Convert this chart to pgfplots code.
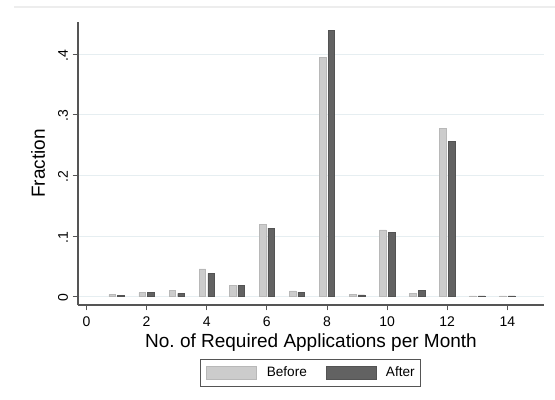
\documentclass[border=0pt]{standalone}
\usepackage{fontspec}
\setmainfont{Liberation Sans}
\usepackage{pgfplots}
\pgfplotsset{compat=1.18}
\definecolor{barlight}{HTML}{CCCCCC}
\definecolor{bardark}{HTML}{626262}
\definecolor{gridc}{HTML}{E6EEF1}
\definecolor{axc}{HTML}{555555}
\frenchspacing
\begin{document}
\begin{tikzpicture}
\useasboundingbox (-58.5pt,-70.5pt) rectangle (357.75pt,228.75pt);
\draw[color=black!7, line width=0.8pt] (-48pt,223.5pt) -- (357.75pt,223.5pt);
\begin{axis}[
  scale only axis,
  width=349.5pt, height=212.25pt,
  xmin=-0.283, xmax=15.22,
  ymin=-0.0137, ymax=0.4528,
  axis x line*=bottom, axis y line*=left,
  axis line style={-, color=axc, line width=0.8pt},
  xtick={0,2,4,6,8,10,12,14},
  xticklabels={0,2,4,6,8,10,12,14},
  ytick={0,0.1,0.2,0.3,0.4},
  yticklabels={0,.1,.2,.3,.4},
  tick align=outside,
  major tick length=4pt,
  tick style={color=axc, line width=0.6pt},
  xtick pos=bottom, ytick pos=left,
  ymajorgrids,
  major grid style={color=gridc, line width=0.6pt},
  tick label style={font=\fontsize{10.5pt}{12pt}\selectfont},
  yticklabel style={rotate=90, anchor=south, xshift=-1pt},
  xticklabel style={yshift=-1pt},
  every axis x label/.style={at={(axis description cs:0.5,-0.134)}, anchor=center, font=\fontsize{14.25pt}{16pt}\selectfont},
  every axis y label/.style={at={(axis description cs:-0.0858,0.5)}, rotate=90, anchor=center, font=\fontsize{14.25pt}{16pt}\selectfont},
  xlabel={No. of Required Applications per Month},
  ylabel={Fraction},
  legend columns=2,
  legend style={at={(axis description cs:0.499,-0.1908)}, anchor=north,
    draw=axc, line width=0.6pt, font=\fontsize{10.2pt}{12pt}\selectfont,
    inner xsep=4.5pt, inner ysep=4.5pt,
    nodes={inner xsep=0pt, inner ysep=1pt},
    /tikz/every odd column/.append style={column sep=7.5pt},
    /tikz/every even column/.append style={column sep=14pt}},
  legend image code/.code={\fill[#1] (0pt,-4.875pt) rectangle (37.5pt,4.875pt);},
]
\addplot[ybar, bar width=0.22, bar shift=-0.145, fill=barlight, draw=barlight!90!black, line width=0.3pt] coordinates {
(1,0.0033) (2,0.0066) (3,0.011) (4,0.046) (5,0.019) (6,0.1198) (7,0.0094)
(8,0.395) (9,0.0044) (10,0.110) (11,0.0055) (12,0.278) (13,0.0012) (14,0.0012)
};
\addlegendentry{Before}
\addplot[ybar, bar width=0.22, bar shift=0.145, fill=bardark, draw=bardark!85!black, line width=0.3pt] coordinates {
(1,0.0022) (2,0.0066) (3,0.0055) (4,0.0385) (5,0.019) (6,0.1132) (7,0.0077)
(8,0.439) (9,0.0028) (10,0.1066) (11,0.0105) (12,0.2566) (13,0.0015) (14,0.0015)
};
\addlegendentry{After}
\end{axis}
\end{tikzpicture}
\end{document}
